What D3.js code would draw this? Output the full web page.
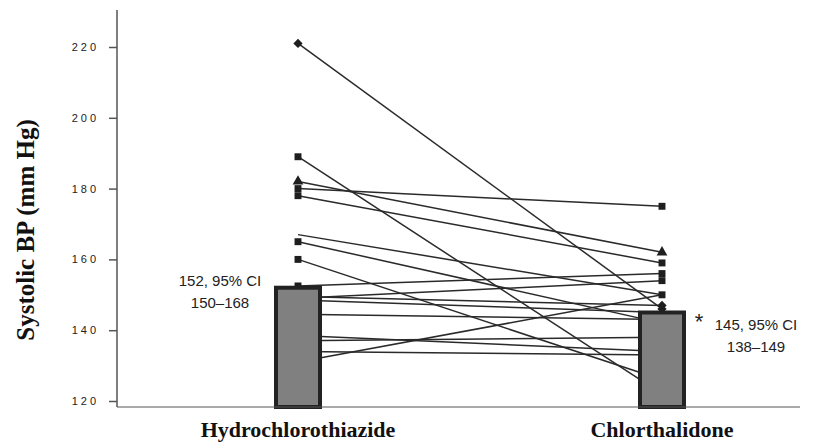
<!DOCTYPE html>
<html>
<head>
<meta charset="utf-8">
<script src="https://cdn.jsdelivr.net/npm/d3@7"></script>
<style>
  html, body { margin: 0; padding: 0; background: #fff; }
  svg { display: block; }
</style>
</head>
<body>
<svg id="chart" width="814" height="445"></svg>
<script>
// Treatment groups
const categories = ["Hydrochlorothiazide", "Chlorthalidone"];

// Per-patient systolic BP (mm Hg) on each drug, same order in both arrays
const hctzSBP   = [221, 189, 182, 180, 178, 167, 165, 160, 152.5, 149.5, 149, 148.5, 144.5, 138.5, 137, 134, 131];
const chlorSBP  = [146, 122, 162, 175, 159, 150, 142, 126, 156, 147, 154, 145, 143, 134, 138, 133, 150];
const markerShape = ["diamond", "square", "triangle", "square", "square", "none", "square", "square",
                     "square", "diamond", "square", "diamond", "square", "square", "square", "square", "square"];

// Group summaries
const meanSBP = [152, 145];
const ciLow   = [150, 138];
const ciHigh  = [168, 149];
const significance = ["", "*"];

// Axis
const yTicks = [120, 140, 160, 180, 200, 220];
const yTitle = "Systolic BP (mm Hg)";

const svg = d3.select("#chart");

const x = d3.scalePoint().domain(categories).range([298, 662]);
const y = d3.scaleLinear().domain([120, 220]).range([401, 47]);

const axisX = 117;
const baseY = 407;
const barW = 44;

// connecting lines per patient
const pairs = hctzSBP.map((v, i) => ({ a: v, b: chlorSBP[i], shape: markerShape[i] }));

svg.append("g")
  .selectAll("line")
  .data(pairs)
  .join("line")
  .attr("x1", x(categories[0]))
  .attr("y1", d => y(d.a))
  .attr("x2", x(categories[1]))
  .attr("y2", d => y(d.b))
  .attr("stroke", "#2a2a2a")
  .attr("stroke-width", 1.5);

// markers at each end
const sym = {
  square: d3.symbol(d3.symbolSquare, 48),
  diamond: d3.symbol(d3.symbolDiamond2, 55),
  triangle: d3.symbol(d3.symbolTriangle, 50)
};
const markers = [];
pairs.forEach(p => {
  if (p.shape === "none") return;
  markers.push({ cx: x(categories[0]), v: p.a, shape: p.shape });
  markers.push({ cx: x(categories[1]), v: p.b, shape: p.shape });
});
svg.append("g")
  .selectAll("path")
  .data(markers)
  .join("path")
  .attr("transform", d => `translate(${d.cx},${y(d.v)})`)
  .attr("d", d => sym[d.shape]())
  .attr("fill", "#1e1e1e");

// mean bars
svg.append("g")
  .selectAll("rect")
  .data(categories)
  .join("rect")
  .attr("x", d => x(d) - barW / 2)
  .attr("y", (d, i) => y(meanSBP[i]))
  .attr("width", barW)
  .attr("height", (d, i) => baseY - y(meanSBP[i]))
  .attr("fill", "#808080")
  .attr("stroke", "#222")
  .attr("stroke-width", 4);

// y axis
const yAxis = d3.axisLeft(y).tickValues(yTicks).tickSize(8).tickPadding(10).tickFormat(d3.format("d"));
const gy = svg.append("g").attr("transform", `translate(${axisX},0)`).call(yAxis);
gy.select(".domain").remove();
gy.append("line").attr("x1", 0).attr("x2", 0).attr("y1", 10).attr("y2", baseY)
  .attr("stroke", "#555").attr("stroke-width", 1.5);
gy.selectAll(".tick line").attr("stroke", "#555").attr("stroke-width", 1.5);
gy.selectAll(".tick text")
  .attr("font-family", "Arial, 'Liberation Sans', sans-serif")
  .attr("font-size", 11)
  .attr("letter-spacing", "3px")
  .attr("fill", "#222");

// baseline
svg.append("line")
  .attr("x1", axisX).attr("x2", 800)
  .attr("y1", baseY).attr("y2", baseY)
  .attr("stroke", "#555").attr("stroke-width", 1.2);

// category labels
svg.append("g")
  .selectAll("text")
  .data(categories)
  .join("text")
  .attr("x", d => x(d))
  .attr("y", 437)
  .attr("text-anchor", "middle")
  .attr("font-family", "'Liberation Serif', 'Times New Roman', serif")
  .attr("font-weight", "bold")
  .attr("font-size", 22)
  .attr("fill", "#111")
  .text(d => d);

// y title
svg.append("text")
  .attr("transform", "translate(34,230) rotate(-90)")
  .attr("text-anchor", "middle")
  .attr("font-family", "'Liberation Serif', 'Times New Roman', serif")
  .attr("font-weight", "bold")
  .attr("font-size", 25)
  .attr("fill", "#111")
  .text(yTitle);

// mean / CI annotations
const annot = [
  { cx: 220, y1: 286, y2: 308 },
  { cx: 756, y1: 330, y2: 352 }
];
const fontSans = "Arial, 'Liberation Sans', sans-serif";
categories.forEach((c, i) => {
  const a = annot[i];
  svg.append("text")
    .attr("x", a.cx).attr("y", a.y1)
    .attr("text-anchor", "middle")
    .attr("font-family", fontSans).attr("font-size", 15).attr("fill", "#222")
    .text(`${meanSBP[i]}, 95% CI`);
  svg.append("text")
    .attr("x", a.cx).attr("y", a.y2)
    .attr("text-anchor", "middle")
    .attr("font-family", fontSans).attr("font-size", 15).attr("fill", "#222")
    .text(`${ciLow[i]}\u2013${ciHigh[i]}`);
  if (significance[i]) {
    svg.append("text")
      .attr("x", a.cx - 57).attr("y", a.y1 - 1)
      .attr("text-anchor", "middle")
      .attr("font-family", fontSans).attr("font-size", 22).attr("fill", "#222")
      .text(significance[i]);
  }
});
</script>
</body>
</html>
